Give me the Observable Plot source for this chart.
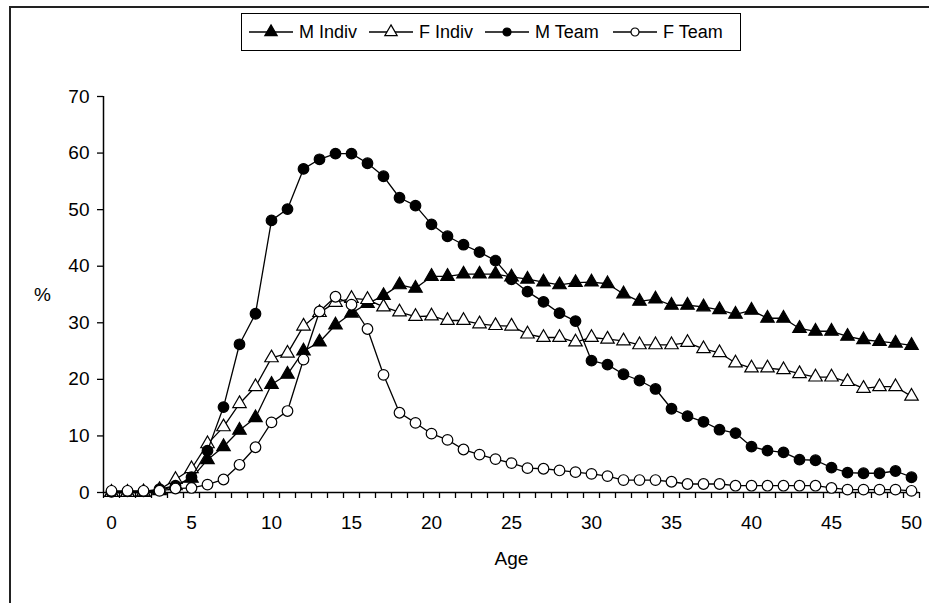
<!DOCTYPE html>
<html>
<head>
<meta charset="utf-8">
<script src="https://cdn.jsdelivr.net/npm/d3@7"></script>
<script src="https://cdn.jsdelivr.net/npm/@observablehq/plot@0.6"></script>
<style>
  html, body { margin: 0; padding: 0; background: #fff; }
  #wrap { position: relative; width: 929px; height: 603px; overflow: hidden; font-family: "Liberation Sans", Arial, sans-serif; }
  #frame { position: absolute; left: 9px; top: 6px; width: 940px; height: 620px; border-top: 2px solid #222; border-left: 2px solid #222; }
  #legend { position: absolute; left: 241px; top: 13px; width: 498px; height: 36px; border: 1px solid #000; background: #fff; }
  #legend svg { position: absolute; left: 0; top: 0; overflow: visible; }
  #chart { position: absolute; left: 0; top: 0; }
</style>
</head>
<body>
<div id="wrap">
  <div id="frame"></div>
  <div id="chart"></div>
  <div id="legend"></div>
</div>
<script>
// ---- data ----
const ages = [0,1,2,3,4,5,6,7,8,9,10,11,12,13,14,15,16,17,18,19,20,21,22,23,24,25,26,27,28,29,30,31,32,33,34,35,36,37,38,39,40,41,42,43,44,45,46,47,48,49,50];
const mIndiv = [0,0,0,0.3,1.2,2.5,5.8,8.1,11.0,13.2,19.1,20.9,25.0,26.6,29.6,31.7,33.4,34.8,36.7,36.1,38.2,38.2,38.6,38.6,38.6,38.1,37.7,37.2,36.7,37.1,37.2,36.9,35.1,33.8,34.2,33.1,33.1,32.8,32.3,31.5,32.2,30.8,30.8,29.0,28.5,28.5,27.6,27.0,26.7,26.4,26.0];
const fIndiv = [0,0,0.1,0.5,2.3,4.2,8.6,11.6,15.7,18.7,23.8,24.6,29.4,31.8,33.6,34.3,34.1,32.8,31.9,31.1,31.2,30.4,30.4,29.8,29.5,29.4,28.0,27.4,27.4,26.6,27.4,27.1,26.8,26.1,26.1,26.1,26.5,25.4,24.7,22.9,22.0,22.0,21.7,21.0,20.4,20.4,19.6,18.4,18.7,18.7,17.0];
const mTeam = [0.1,0.2,0.2,0.6,1.2,2.7,7.4,15.1,26.2,31.6,48.1,50.1,57.2,58.9,59.9,59.9,58.2,55.9,52.1,50.7,47.4,45.3,43.8,42.5,41.0,37.7,35.5,33.7,31.7,30.3,23.3,22.6,20.9,19.8,18.3,14.8,13.5,12.5,11.1,10.5,8.1,7.4,7.1,5.8,5.7,4.4,3.5,3.4,3.4,3.8,2.7];
const fTeam = [0.3,0.3,0.3,0.3,0.7,0.8,1.4,2.3,4.9,8.0,12.4,14.4,23.5,32.0,34.6,33.2,28.9,20.8,14.1,12.3,10.4,9.3,7.6,6.7,5.9,5.2,4.3,4.2,3.9,3.6,3.3,2.9,2.2,2.2,2.2,1.9,1.5,1.5,1.5,1.2,1.2,1.2,1.2,1.2,1.2,0.8,0.5,0.5,0.5,0.5,0.3];
const seriesNames = ["M Indiv", "F Indiv", "M Team", "F Team"];
const xTickLabels = [0,5,10,15,20,25,30,35,40,45,50];
const yTickLabels = [0,10,20,30,40,50,60,70];
const xLabel = "Age";
const yLabel = "%";

// ---- styling per series ----
const styles = [
  {symbol: "triangle", fill: "black", r: 5},
  {symbol: "triangle", fill: "white", r: 5},
  {symbol: "circle", fill: "black", r: 5.3},
  {symbol: "circle", fill: "white", r: 5.3}
];
const FONT = 19;
const LEGEND_FONT = 18;
const values = [mIndiv, fIndiv, mTeam, fTeam];
const tables = values.map(vals => ages.map((a, i) => ({age: a, v: vals[i]})));
const boundaries = [-0.5, ...ages.map(a => a + 0.5)];

const marks = [];
tables.forEach((t, k) => {
  marks.push(Plot.line(t, {x: "age", y: "v", stroke: "black", strokeWidth: 1.3}));
  marks.push(Plot.dot(t, {x: "age", y: "v", symbol: styles[k].symbol, r: styles[k].r, fill: styles[k].fill, stroke: "black", strokeWidth: 1.2}));
});

const chart = Plot.plot({
  width: 929,
  height: 603,
  marginLeft: 103,
  marginRight: 10,
  marginTop: 96,
  marginBottom: 111,
  style: {fontFamily: "'Liberation Sans', Arial, sans-serif", fontSize: FONT + "px", color: "black", background: "transparent", overflow: "visible"},
  x: {domain: [-0.5, 50.5]},
  y: {domain: [0, 70]},
  marks: [
    Plot.axisY({ticks: yTickLabels, tickSize: 6, tickPadding: 8, label: null, strokeWidth: 1.3}),
    Plot.axisX({ticks: boundaries, tickSize: 6, tickFormat: () => "", label: null, strokeWidth: 1.3}),
    Plot.axisX({ticks: xTickLabels, tickSize: 0, tickPadding: 23, label: null}),
    Plot.ruleX([-0.5], {stroke: "black", strokeWidth: 1.5}),
    Plot.ruleY([0], {stroke: "black", strokeWidth: 1.5}),
    Plot.text([yLabel], {frameAnchor: "left", dx: -61, fontSize: FONT, textAnchor: "middle"}),
    Plot.text([xLabel], {frameAnchor: "bottom", dy: 72, fontSize: FONT, textAnchor: "middle"}),
    ...marks
  ]
});
document.getElementById("chart").appendChild(chart);

// ---- legend (one SVG, positions relative to legend box) ----
const markerCenters = [29, 149, 265, 393];
const textLefts = [57, 177, 293, 421];
const lsvg = d3.create("svg").attr("width", 498).attr("height", 36)
  .style("font-family", "'Liberation Sans', Arial, sans-serif").style("font-size", LEGEND_FONT + "px");
seriesNames.forEach((name, k) => {
  const cx = markerCenters[k], cy = 18;
  lsvg.append("line").attr("x1", cx - 22).attr("x2", cx + 22).attr("y1", cy).attr("y2", cy)
    .attr("stroke", "black").attr("stroke-width", 1.3);
  const symType = styles[k].symbol === "triangle" ? d3.symbolTriangle : d3.symbolCircle;
  const rr = styles[k].symbol === "triangle" ? 4.6 : 4;
  lsvg.append("path").attr("transform", `translate(${cx},${cy})`)
    .attr("d", d3.symbol(symType, Math.PI * rr * rr)())
    .attr("fill", styles[k].fill).attr("stroke", "black").attr("stroke-width", 1.2);
  lsvg.append("text").attr("x", textLefts[k]).attr("y", cy).attr("dy", "0.35em")
    .attr("fill", "black").text(name);
});
document.getElementById("legend").appendChild(lsvg.node());
</script>
</body>
</html>
